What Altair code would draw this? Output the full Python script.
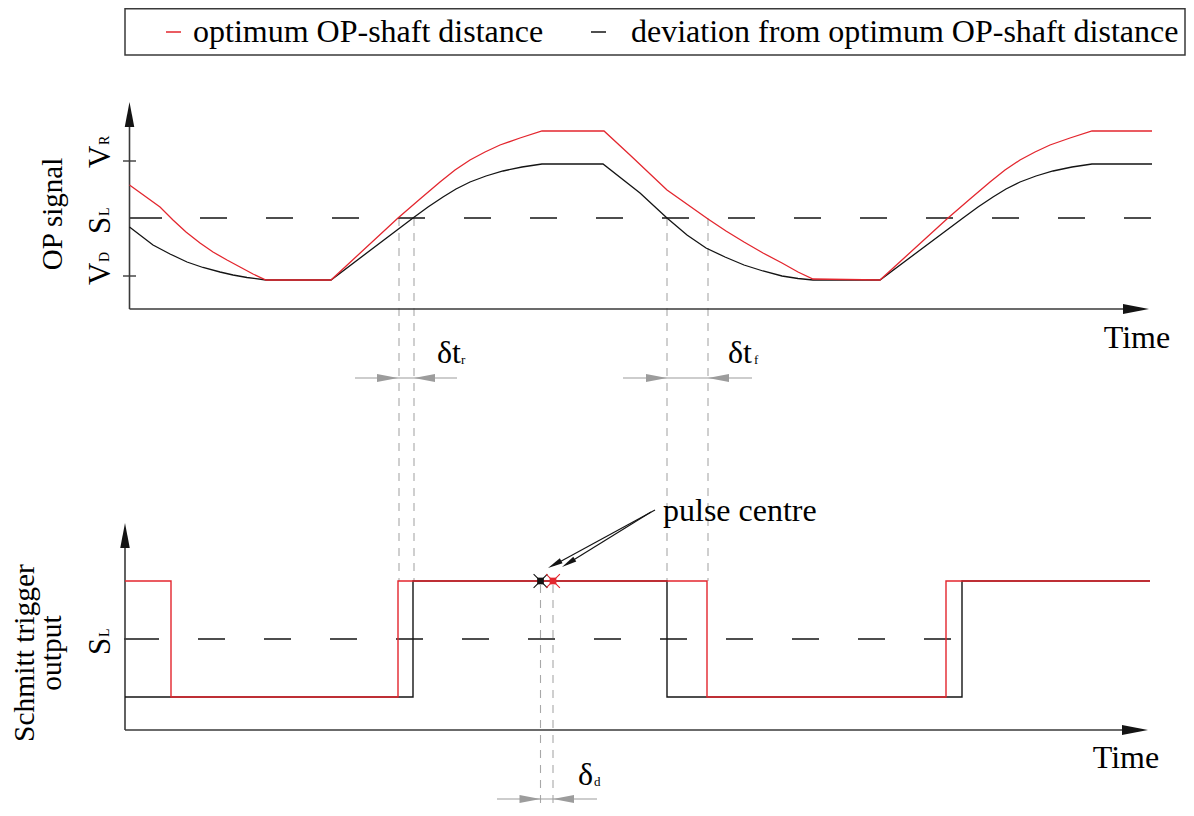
import math
import altair as alt
import pandas as pd

FONT = "Liberation Serif"
RED = "#e3262e"
BLK = "#141414"
AX = "#3a3a3a"
GRY = "#a8a8a8"
DIM = "#9c9c9c"

# ---------------- data (figure frame: t = time position, v = level, growing downwards) ----------------
# OP signal (top panel)
red_top_t = [129.5, 160, 173, 186, 200, 213, 227, 240, 253, 266, 331, 398, 420, 440, 455, 470, 485, 500, 520, 542,
             604, 630, 667, 708, 726, 744, 763, 782, 798, 813, 880, 948, 970, 990, 1005, 1020, 1035, 1050, 1070, 1092, 1152]
red_top_v = [185, 207, 220, 232, 243, 252, 260, 267, 274, 280, 280, 218, 199, 182, 170, 160, 152, 145, 138, 131,
             131, 155, 190, 219, 231, 242, 253, 263, 272, 279, 280, 218, 199, 182, 170, 160, 152, 145, 138, 131, 131]
blk_top_t = [129.5, 153, 170, 187, 203, 220, 233, 247, 266, 331, 413, 428, 443, 456, 470, 486, 503, 522, 542,
             603, 640, 667, 687, 706, 725, 744, 763, 782, 798, 813, 880, 963, 978, 993, 1006, 1020, 1036, 1053, 1072, 1092, 1152]
blk_top_v = [227, 245, 254, 262, 267.5, 272, 275, 277.5, 280, 280, 218, 207, 197, 189, 182, 176, 171, 167, 164,
             164, 193, 218, 235, 248, 257, 265, 271, 276, 278.5, 280, 280, 218, 207, 197, 189, 182, 176, 171, 167, 164, 164]

# Schmitt trigger output (bottom panel), step-after transitions
red_bot_t = [125, 171, 398, 707, 946, 1150]
red_bot_v = [581, 697, 581, 697, 581, 581]
blk_bot_t = [125, 413, 667, 962, 1150]
blk_bot_v = [697, 581, 697, 581, 581]

# pulse centres
pc_t = [540.5, 553]
pc_v = [581, 581]
pc_col = [BLK, RED]

# ---------------- helpers ----------------
XS = alt.Scale(domain=[8, 1186], nice=False, zero=False)
YS = alt.Scale(domain=[8, 808], nice=False, zero=False, reverse=True)


def X(f="t"):
    return alt.X(f"{f}:Q", scale=XS, axis=None)


def Y(f="v"):
    return alt.Y(f"{f}:Q", scale=YS, axis=None)


def curve(ts, vs, color, width=1.3, interp="linear"):
    df = pd.DataFrame({"t": ts, "v": vs, "i": range(len(ts))})
    return alt.Chart(df).mark_line(color=color, strokeWidth=width, interpolate=interp).encode(
        x=X(), y=Y(), order="i:Q")


def rules(segs, color, width=1.3, dash=None):
    df = pd.DataFrame(segs, columns=["t", "v", "t2", "v2"])
    kw = dict(color=color, strokeWidth=width)
    if dash:
        kw["strokeDash"] = dash
    return alt.Chart(df).mark_rule(**kw).encode(x=X(), y=Y(), x2="t2:Q", y2="v2:Q")


ARROW = "M0,0L-2,-0.38L-2,0.38Z"


def arrows(items):
    # items: (tip_t, tip_v, angle_deg, length, color)
    df = pd.DataFrame(items, columns=["t", "v", "a", "L", "c"])
    df["s"] = df["L"] ** 2
    return alt.Chart(df).mark_point(shape=ARROW, filled=True, opacity=1, strokeWidth=0).encode(
        x=X(), y=Y(), angle=alt.Angle("a:Q", scale=None), size=alt.Size("s:Q", scale=None),
        color=alt.Color("c:N", scale=None))


def texts(items, size=32, angle=0, align="left"):
    df = pd.DataFrame(items, columns=["t", "v", "label"])
    kw = dict(font=FONT, fontSize=size, align=align, baseline="alphabetic", color="black")
    if angle:
        kw["angle"] = angle
    return alt.Chart(df).mark_text(**kw).encode(x=X(), y=Y(), text="label:N")


layers = []

# legend box
box = pd.DataFrame({"t": [125], "t2": [1185], "v": [8.8], "v2": [55]})
layers.append(alt.Chart(box).mark_rect(fill="white", stroke=AX, strokeWidth=1.5).encode(
    x=X(), x2="t2:Q", y=Y(), y2="v2:Q"))
layers.append(rules([(166, 32, 181, 32)], RED, 1.5))
layers.append(rules([(591, 32, 606, 32)], BLK, 1.5))
layers.append(texts([(193, 42, "optimum OP-shaft distance"),
                     (631, 42, "deviation from optimum OP-shaft distance")]))

# gray dashed projection lines
layers.append(rules([(399, 218, 399, 581), (414, 218, 414, 581), (667, 218, 667, 581), (708, 218, 708, 581),
                     (540.5, 585, 540.5, 808), (553, 585, 553, 808)], GRY, 1.1, [8, 7]))

# dimension lines
layers.append(rules([(355, 378, 457, 378), (623, 378, 752, 378), (497, 799, 597, 799)], DIM, 1.2))

# threshold lines
layers.append(rules([(129.5, 218, 162, 218), (124, 639, 159, 639)], BLK, 1.3))
layers.append(rules([(123, 161, 136, 161), (123, 276, 136, 276)], AX, 1.4))
layers.append(rules([(200, 218, 1152, 218), (198, 639, 951, 639)], BLK, 1.3, [27, 39]))

# axes
layers.append(rules([(129.5, 309, 129.5, 115), (129.5, 309, 1135, 309),
                     (125, 730, 125, 536), (125, 730, 1135, 730)], AX, 1.6))
layers.append(arrows([(129.5, 102, 270, 25, BLK), (1149, 309, 0, 26, BLK),
                      (125, 523, 270, 25, BLK), (1148, 730, 0, 26, BLK),
                      (398, 378, 0, 21, DIM), (414, 378, 180, 21, DIM),
                      (667, 378, 0, 21, DIM), (708, 378, 180, 21, DIM),
                      (540.5, 799, 0, 21, DIM), (553, 799, 180, 21, DIM),
                      (548, 568, 151.5, 15, BLK), (562, 567, 148.5, 15, BLK)]))

# curves
layers.append(curve(blk_top_t, blk_top_v, BLK))
layers.append(curve(red_top_t, red_top_v, RED))
layers.append(curve(blk_bot_t, blk_bot_v, BLK, 1.4, "step-after"))
layers.append(curve(red_bot_t, red_bot_v, RED, 1.4, "step-after"))

# pulse centre markers + arrows
pc = pd.DataFrame({"t": pc_t, "v": pc_v, "c": pc_col})
layers.append(alt.Chart(pc).mark_point(shape="M-1,-1L1,1M-1,1L1,-1", size=190, strokeWidth=1.1, opacity=1).encode(
    x=X(), y=Y(), color=alt.Color("c:N", scale=None)))
layers.append(alt.Chart(pc).mark_point(shape="square", size=45, filled=True, opacity=1).encode(
    x=X(), y=Y(), color=alt.Color("c:N", scale=None)))
layers.append(rules([(655, 510, 554, 565), (651, 512, 567, 564)], BLK, 1.2))

# texts
layers.append(texts([(1137, 348, "Time"), (1126, 768, "Time")], align="center"))
layers.append(texts([(663, 521, "pulse centre"), (437, 363, "δt"), (728, 363, "δt"), (578, 785, "δ")]))
layers.append(texts([(461, 364, "r"), (754, 364, "f"), (594, 786, "d")], size=13))
layers.append(texts([(110, 168, "V"), (110, 234, "S"), (110, 285, "V"), (110, 655, "S")], size=31, angle=270))
layers.append(texts([(109, 145, "R"), (109, 216, "L"), (109, 262, "D"), (109, 637, "L")], size=14, angle=270))
layers.append(texts([(62, 214, "OP signal")], size=29, angle=270, align="center"))
layers.append(texts([(34, 653, "Schmitt trigger"), (61, 653, "output")], size=29.5, angle=270, align="center"))

chart = alt.layer(*layers).properties(
    width=1178, height=800, padding=0, autosize=alt.AutoSizeParams(type="none")
).configure_view(stroke=None)

chart.save("out.html", embed_options={"renderer": "svg", "actions": False})
